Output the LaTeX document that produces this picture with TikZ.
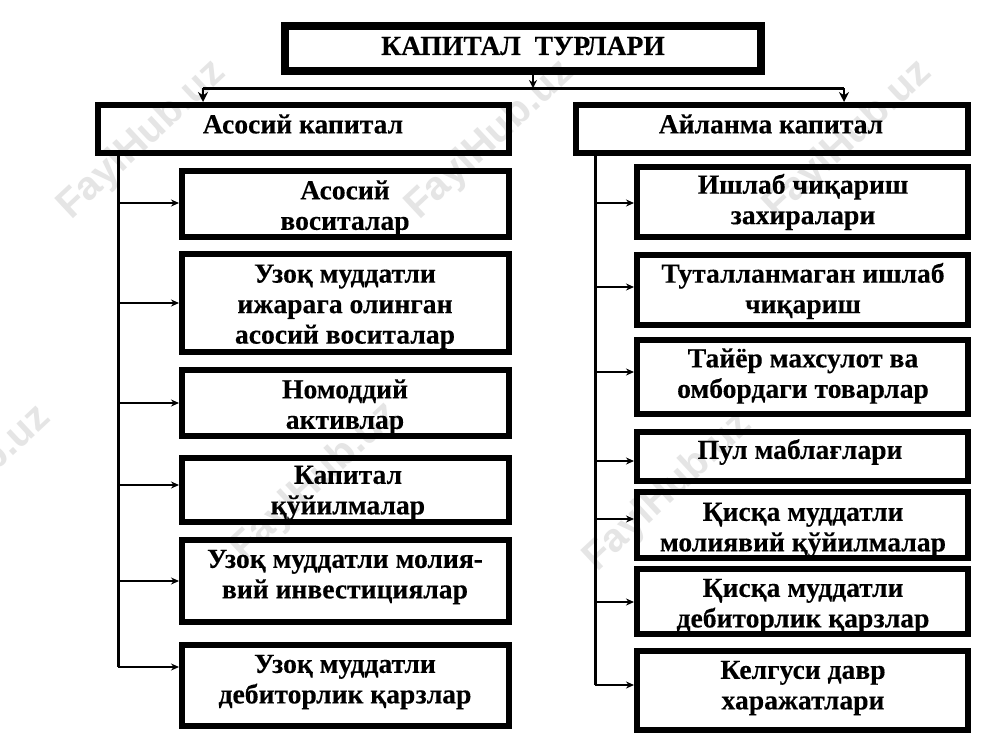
\documentclass[tikz,border=0pt]{standalone}
\usepackage{fontspec}
\setmainfont{Liberation Serif}[BoldFeatures={FakeBold=0.25}]
\newfontfamily\wmfont{Liberation Sans}
\definecolor{wm}{gray}{0.90}
\usetikzlibrary{arrows.meta}
\tikzset{
  x=1pt,y=-1pt,
  cbox/.style={draw=black,line width=6pt,inner sep=0pt,outer sep=auto,rectangle,line join=miter},
  lbl/.style={align=center,font=\fontsize{27.6}{30.5}\selectfont\bfseries,inner sep=0pt,text=black},
  trunk/.style={line width=3pt,draw=black},
  bus/.style={line width=3pt,draw=black},
  branch/.style={line width=1.3pt,draw=black,-{Stealth[length=8pt,width=7pt]}},
  drop/.style={line width=1.6pt,draw=black,-{Stealth[length=10pt,width=10pt]}},
  wmark/.style={font=\wmfont\bfseries\fontsize{40}{40}\selectfont,text=wm,rotate=43,inner sep=0pt}
}
\newcommand{\bx}[6][6]{%
  \pgfmathsetmacro{\cxv}{(#3+#4)/2}\pgfmathsetmacro{\cyv}{(#5+#6)/2}%
  \pgfmathsetmacro{\wv}{#4-#3-#1}\pgfmathsetmacro{\hv}{#6-#5-#1}%
  \node[cbox,line width=#1pt,minimum width=\wv pt,minimum height=\hv pt] (#2) at (\cxv,\cyv) {};}
\begin{document}
\begin{tikzpicture}
\useasboundingbox (0,0) rectangle (1000,750);
\fill[white] (0,0) rectangle (1000,750);
% watermarks
\node[wmark] (w1) at (142,140) {FaylHub.uz};
\node[wmark] (w2) at (490,140) {FaylHub.uz};
\node[wmark] (w3) at (848,140) {FaylHub.uz};
\node[wmark] (w4) at (-33,485) {FaylHub.uz};
\node[wmark] (w5) at (315,482) {FaylHub.uz};
\node[wmark] (w6) at (668,492) {FaylHub.uz};
% boxes
\bx[8]{top}{281}{765}{22}{75}
\bx{lhead}{95}{512}{102}{156}
\bx{rhead}{573}{971}{102}{156}
\bx{l1}{179}{512}{168}{240}
\bx{l2}{179}{512}{251}{355}
\bx{l3}{179}{512}{367}{439}
\bx{l4}{179}{512}{455}{525}
\bx{l5}{179}{512}{537}{625}
\bx{l6}{179}{512}{642}{729}
\bx{r1}{634}{971}{164}{240}
\bx{r2}{634}{971}{252}{328}
\bx{r3}{634}{971}{337}{417}
\bx{r4}{634}{971}{429}{484}
\bx{r5}{634}{971}{489}{561}
\bx{r6}{634}{971}{566}{637}
\bx{r7}{634}{971}{648}{733}
% connectors
\coordinate (busmid) at (533,88);
\coordinate (busl) at (203,88);
\coordinate (busr) at (844,88);
\draw[bus] (busl) -- (busr);
\draw[drop,-{Stealth[length=8pt,width=8pt]}] (busmid |- top.south) -- (busmid);
\draw[drop] (busl) -- (busl |- lhead.north);
\draw[drop] (busr) -- (busr |- rhead.north);
\coordinate (ls) at (118,156);
\coordinate (rs) at (595,156);
\foreach \nm/\yy in {a/203,b/303,c/403,d/485,e/581,f/667}{
  \coordinate (lb\nm) at (118,\yy);
  \draw[branch] (lb\nm) -- (lb\nm -| l1.west);
}
\foreach \nm/\yy in {a/203,b/287,c/372,d/461,e/519,f/602,g/685}{
  \coordinate (rb\nm) at (595,\yy);
  \draw[branch] (rb\nm) -- (rb\nm -| r1.west);
}
\draw[trunk] (ls) -- (lbf);
\draw[trunk] (rs) -- (rbg);
% labels
\node[lbl] (ttop) at (523,46) {КАПИТАЛ\ \ ТУРЛАРИ};
\node[lbl] (tlh) at (303,124) {Асосий капитал};
\node[lbl] (trh) at (771,124) {Айланма капитал};
\node[lbl] (tl1) at (345,208) {Асосий\\воситалар};
\node[lbl] (tl2) at (345,307) {Узоқ муддатли\\ижарага олинган\\асосий воситалар};
\node[lbl] (tl3) at (345,407) {Номоддий\\активлар};
\node[lbl] (tl4) at (348,493) {Капитал\\қўйилмалар};
\node[lbl] (tl5) at (345,577) {Узоқ муддатли молия-\\вий инвестициялар};
\node[lbl] (tl6) at (345,682) {Узоқ муддатли\\дебиторлик қарзлар};
\node[lbl] (tr1) at (803,202) {Ишлаб чиқариш\\захиралари};
\node[lbl] (tr2) at (803,291) {Туталланмаган ишлаб\\чиқариш};
\node[lbl] (tr3) at (803,376) {Тайёр махсулот ва\\омбордаги товарлар};
\node[lbl] (tr4) at (800,452) {Пул маблағлари};
\node[lbl] (tr5) at (803,530) {Қисқа муддатли\\молиявий қўйилмалар};
\node[lbl] (tr6) at (803,606) {Қисқа муддатли\\дебиторлик қарзлар};
\node[lbl] (tr7) at (803,688) {Келгуси давр\\харажатлари};
\end{tikzpicture}
\end{document}
